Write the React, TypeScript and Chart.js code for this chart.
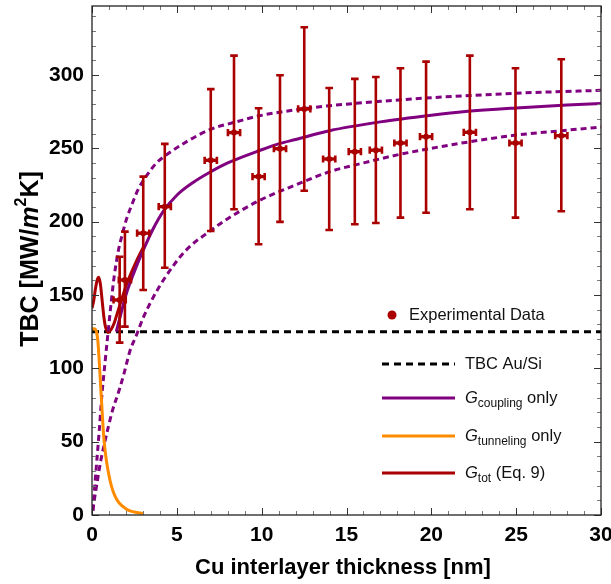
import React, { useEffect, useRef } from "react";
import { Chart, registerables } from "chart.js";
Chart.register(...registerables);

// ---------- data ----------
const thicknessNm = [1.63, 1.94, 3.02, 4.29, 7.0, 8.37, 9.82, 11.08, 12.51, 13.98, 15.49, 16.73, 18.18, 19.69, 22.27, 24.96, 27.66];
const tbcMean = [146.6, 160.2, 192.1, 210.2, 241.8, 260.7, 230.7, 249.7, 276.8, 242.7, 247.7, 248.7, 253.6, 257.9, 260.9, 253.6, 258.6];
const tbcHigh = [176.1, 193.2, 230.7, 253.0, 290.3, 313.2, 277.3, 299.8, 332.5, 291.1, 297.3, 298.6, 304.6, 309.1, 313.2, 304.6, 310.7];
const tbcLow = [117.5, 128.4, 153.4, 168.6, 193.6, 208.4, 184.6, 199.8, 221.1, 194.3, 198.2, 199.1, 202.7, 206.1, 208.4, 202.7, 207.1];
const thicknessErr = 0.36;

const auSiX = [0, 30];
const auSiY = [125, 125];

const couplingX = [1.43, 1.7, 2.0, 2.5, 3.0, 3.6, 4.2, 5, 6, 7, 8, 10, 11, 12, 14, 17, 20, 22, 25, 28, 30];
const couplingY = [125, 137, 150, 166, 180, 195, 207, 218, 227, 234, 240, 249, 253, 256, 262, 268, 272.5, 275, 277.5, 279.5, 280.5];

const upperX = [0.05, 0.15, 0.27, 0.43, 0.57, 0.76, 0.96, 1.16, 1.3, 1.55, 1.8, 2.04, 2.4, 2.72, 3.2, 3.8, 4.33, 5.5, 7, 8.5, 9.8, 12.5, 14, 17, 20, 22.3, 26, 30];
const upperY = [3, 18, 35, 58, 80, 103, 126, 148, 162, 180, 192, 202, 213, 222, 231, 240, 245, 254, 263, 268, 272, 277, 279, 282, 284.5, 286, 288, 289.5];

const lowerX = [0.05, 0.16, 0.3, 0.5, 0.74, 0.94, 1.2, 1.6, 1.9, 2.24, 2.6, 3.0, 3.5, 4.2, 5.5, 7, 8, 9.8, 12, 14, 16, 18, 20, 22.3, 25, 27.7, 30];
const lowerY = [3, 12, 22, 36, 49, 59, 71, 85, 97, 112, 122, 134, 146, 160, 180, 194, 202, 214, 225, 234, 240, 245.5, 250, 254.5, 259, 262, 264.5];

const tunnelX = [0, 0.1, 0.2, 0.28, 0.35, 0.42, 0.5, 0.6, 0.7, 0.85, 1.0, 1.15, 1.35, 1.55, 1.8, 2.1, 2.5, 3.0];
const tunnelY = [127, 127, 126.5, 124, 118, 106, 90, 70, 52, 37, 27, 19.5, 13, 9, 6, 3.5, 2, 1];

const totX = [0, 0.1, 0.2, 0.3, 0.4, 0.5, 0.6, 0.7, 0.8, 0.95, 1.1, 1.3, 1.5, 1.72, 2.0, 2.2, 2.5, 2.8, 3.1];
const totY = [141, 146, 154, 160, 162, 157, 146, 135, 128, 124.5, 126, 130.5, 138, 146, 156, 162, 170, 177.5, 184];

const xTicks = [0, 5, 10, 15, 20, 25, 30];
const yTicks = [0, 50, 100, 150, 200, 250, 300];
const xMinorStep = 1;
const yMinorStep = 10;

// ---------- styles ----------
const FONT = '"Liberation Sans", Arial, Helvetica, sans-serif';
const RED = "rgb(170,0,0)";
const PURPLE = "rgb(128,0,128)";
const ORANGE = "rgb(255,140,0)";

const pts = (xs: number[], ys: number[]) => xs.map((x, i) => ({ x, y: ys[i] }));

type Seg = { text: string; font: string; dy?: number };
function drawRich(ctx: CanvasRenderingContext2D, segs: Seg[], x: number, y: number, center = false) {
  let total = 0;
  for (const s of segs) {
    ctx.font = s.font;
    total += ctx.measureText(s.text).width;
  }
  let cx = center ? x - total / 2 : x;
  for (const s of segs) {
    ctx.font = s.font;
    ctx.fillText(s.text, cx, y + (s.dy || 0));
    cx += ctx.measureText(s.text).width;
  }
}

const decorPlugin = {
  id: "decor",
  afterDatasetsDraw(chart: any) {
    const { ctx, chartArea: a, scales } = chart;
    const xs = scales.x, ys = scales.y;
    ctx.save();
    ctx.beginPath();
    ctx.rect(a.left, a.top, a.right - a.left, a.bottom - a.top);
    ctx.clip();
    ctx.strokeStyle = RED;
    ctx.fillStyle = RED;
    ctx.setLineDash([]);
    thicknessNm.forEach((t, i) => {
      const px = xs.getPixelForValue(t);
      const py = ys.getPixelForValue(tbcMean[i]);
      const hi = ys.getPixelForValue(tbcHigh[i]);
      const lo = ys.getPixelForValue(tbcLow[i]);
      const xl = xs.getPixelForValue(t - thicknessErr);
      const xr = xs.getPixelForValue(t + thicknessErr);
      ctx.lineWidth = 2.6;
      ctx.beginPath();
      ctx.moveTo(px, hi); ctx.lineTo(px, lo);
      ctx.moveTo(px - 3.8, hi); ctx.lineTo(px + 3.8, hi);
      ctx.moveTo(px - 3.8, lo); ctx.lineTo(px + 3.8, lo);
      ctx.moveTo(xl, py - 3.6); ctx.lineTo(xl, py + 3.6);
      ctx.moveTo(xr, py - 3.6); ctx.lineTo(xr, py + 3.6);
      ctx.stroke();
      ctx.lineWidth = 3.4;
      ctx.beginPath();
      ctx.moveTo(xl, py); ctx.lineTo(xr, py);
      ctx.stroke();
      ctx.beginPath();
      ctx.arc(px, py, 3, 0, Math.PI * 2);
      ctx.fill();
    });
    ctx.restore();
  },
  afterDraw(chart: any) {
    const { ctx, chartArea: a, scales } = chart;
    const xs = scales.x, ys = scales.y;
    ctx.save();
    ctx.setLineDash([]);
    // ticks (inward, all four sides)
    const tick = (x1: number, y1: number, x2: number, y2: number, major: boolean) => {
      ctx.strokeStyle = major ? "#333" : "#777";
      ctx.lineWidth = 1;
      ctx.beginPath();
      ctx.moveTo(x1, y1); ctx.lineTo(x2, y2);
      ctx.stroke();
    };
    for (let v = 0; v <= 30 + 1e-9; v += xMinorStep) {
      const major = Math.abs(v % 5) < 1e-9;
      const L = major ? 7 : 4;
      const px = Math.round(xs.getPixelForValue(v)) + 0.5;
      tick(px, a.bottom, px, a.bottom - L, major);
      tick(px, a.top, px, a.top + L, major);
    }
    for (let v = 0; v <= ys.max + 1e-9; v += yMinorStep) {
      const major = Math.abs(v % 50) < 1e-9;
      const L = major ? 7 : 4;
      const py = Math.round(ys.getPixelForValue(v)) + 0.5;
      tick(a.left, py, a.left + L, py, major);
      tick(a.right, py, a.right - L, py, major);
    }
    // frame
    ctx.strokeStyle = "#222";
    ctx.lineWidth = 1.3;
    ctx.strokeRect(a.left, a.top, a.right - a.left, a.bottom - a.top);

    // axis titles
    ctx.fillStyle = "#000";
    ctx.textBaseline = "middle";
    ctx.textAlign = "left";
    drawRich(ctx, [{ text: "Cu interlayer thickness [nm]", font: `bold 22px ${FONT}` }], 343, 568, true);
    const yf = `bold 25px ${FONT}`;
    ctx.save();
    ctx.translate(31, 259);
    ctx.rotate(-Math.PI / 2);
    drawRich(ctx, [
      { text: "TBC [MW/", font: yf },
      { text: "m", font: `italic bold 25px ${FONT}` },
      { text: "2", font: `bold 16px ${FONT}`, dy: -9 },
      { text: "K]", font: yf },
    ], 0, 0, true);
    ctx.restore();

    // legend
    const nf = `16.5px ${FONT}`;
    const itf = `italic 16.5px ${FONT}`;
    const sf = `12px ${FONT}`;
    ctx.fillStyle = RED;
    ctx.beginPath();
    ctx.arc(392, 315, 4.5, 0, Math.PI * 2);
    ctx.fill();
    ctx.fillStyle = "#111";
    drawRich(ctx, [{ text: "Experimental Data", font: nf }], 409, 315);

    const sample = (y: number, color: string, dash: number[]) => {
      ctx.strokeStyle = color;
      ctx.lineWidth = 3;
      ctx.setLineDash(dash);
      ctx.beginPath();
      ctx.moveTo(382, y); ctx.lineTo(455, y);
      ctx.stroke();
      ctx.setLineDash([]);
    };
    sample(364, "#000", [7, 5]);
    sample(398, PURPLE, []);
    sample(436, ORANGE, []);
    sample(473, RED, []);
    ctx.fillStyle = "#111";
    drawRich(ctx, [{ text: "TBC Au/Si", font: nf }], 465, 364);
    drawRich(ctx, [{ text: "G", font: itf }, { text: "coupling", font: sf, dy: 6 }, { text: " only", font: nf }], 465, 398);
    drawRich(ctx, [{ text: "G", font: itf }, { text: "tunneling", font: sf, dy: 6 }, { text: " only", font: nf }], 465, 436);
    drawRich(ctx, [{ text: "G", font: itf }, { text: "tot", font: sf, dy: 6 }, { text: " (Eq. 9)", font: nf }], 465, 473);
    ctx.restore();
  },
};

export default function App() {
  const ref = useRef<HTMLCanvasElement>(null);
  useEffect(() => {
    if (!ref.current) return;
    const line = (data: any[], color: string, order: number, dash: number[] = []) => ({
      type: "line" as const,
      data,
      borderColor: color,
      backgroundColor: color,
      borderWidth: 3,
      borderDash: dash,
      pointRadius: 0,
      cubicInterpolationMode: "monotone" as const,
      fill: false,
      order,
    });
    const chart = new Chart(ref.current, {
      type: "line",
      data: {
        datasets: [
          line(pts(tunnelX, tunnelY), ORANGE, 1),
          line(pts(couplingX, couplingY), PURPLE, 2),
          line(pts(upperX, upperY), PURPLE, 3, [6, 4]),
          line(pts(lowerX, lowerY), PURPLE, 3, [6, 4]),
          line(pts(totX, totY), RED, 4),
          { ...line(pts(auSiX, auSiY), "#000", 5, [7, 5]), cubicInterpolationMode: "default" as const },
        ] as any,
      },
      options: {
        responsive: false,
        animation: false,
        layout: { padding: { top: 6, right: 10, left: 0, bottom: 0 } },
        plugins: { legend: { display: false }, tooltip: { enabled: false } },
        scales: {
          x: {
            type: "linear",
            min: 0,
            max: 30,
            grid: { display: false, drawTicks: false },
            border: { display: false },
            ticks: {
              autoSkip: false,
              maxRotation: 0,
              padding: 8,
              color: "#000",
              font: { family: FONT, size: 21, weight: "bold" },
            },
            afterBuildTicks: (s: any) => { s.ticks = xTicks.map((v) => ({ value: v })); },
            afterFit: (s: any) => { s.height = 69; s.paddingLeft = 0; s.paddingRight = 0; },
          },
          y: {
            type: "linear",
            min: 0,
            max: 347,
            grid: { display: false, drawTicks: false },
            border: { display: false },
            ticks: {
              autoSkip: false,
              padding: 8,
              color: "#000",
              font: { family: FONT, size: 21, weight: "bold" },
            },
            afterBuildTicks: (s: any) => { s.ticks = yTicks.map((v) => ({ value: v })); },
            afterFit: (s: any) => { s.width = 92; s.paddingTop = 0; s.paddingBottom = 0; },
          },
        },
      } as any,
      plugins: [decorPlugin],
    });
    return () => chart.destroy();
  }, []);
  return (
    <div style={{ position: "fixed", left: 0, top: 0, width: 611, height: 584, background: "#fff" }}>
      <canvas ref={ref} width={611} height={584} style={{ width: 611, height: 584, display: "block" }} />
    </div>
  );
}
